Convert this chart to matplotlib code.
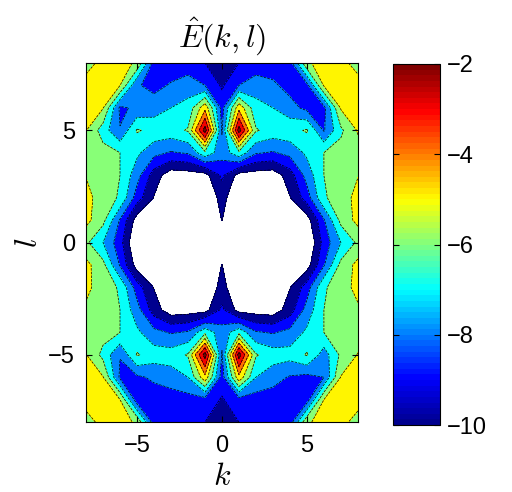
import matplotlib
matplotlib.use("Agg")
import matplotlib.pyplot as plt
from matplotlib.colors import LinearSegmentedColormap
import numpy as np

plt.rcParams['font.family'] = ['Liberation Sans', 'DejaVu Sans']
plt.rcParams['mathtext.fontset'] = 'cm'

# grid (rows: l from 8 down to -8, columns: k from -8 to 8)
k = [-8, -7, -6, -5, -4, -3, -2, -1, 0, 1, 2, 3, 4, 5, 6, 7, 8]
l = [8, 7, 6, 5, 4, 3, 2, 1, 0, -1, -2, -3, -4, -5, -6, -7, -8]

E_hat = [
    [-5.5, -4.6, -4.5, -5.2, -8.4, -8.6, -8.7, -9.0, -9.8, -9.0, -8.7, -8.6, -8.4, -5.2, -4.5, -4.6, -5.5],
    [-4.5, -4.7, -5.0, -7.9, -8.3, -7.9, -7.4, -8.0, -9.15, -8.0, -7.4, -7.8, -8.4, -8.3, -4.9, -4.6, -4.5],
    [-4.6, -4.95, -8.2, -7.8, -7.5, -7.0, -6.7, -4.3, -8.4, -4.3, -6.7, -7.0, -7.6, -8.3, -8.3, -4.9, -4.6],
    [-4.95, -6.5, -7.95, -5.9, -6.3, -6.4, -5.9, -1.5, -8.1, -1.5, -5.9, -6.4, -6.3, -5.9, -8.1, -6.2, -4.9],
    [-5.4, -5.6, -6.0, -6.8, -7.7, -8.1, -7.9, -6.3, -7.6, -6.3, -7.9, -8.1, -7.7, -6.8, -6.0, -5.6, -5.4],
    [-5.05, -5.6, -6.0, -7.6, -9.5, -10.6, -10.5, -10.4, -8.8, -10.4, -10.5, -10.6, -9.5, -7.6, -6.0, -5.6, -5.05],
    [-4.6, -5.6, -6.1, -8.5, -10.05, -11.0, -12.0, -11.0, -9.6, -11.0, -12.0, -11.0, -10.05, -8.5, -6.1, -5.6, -4.6],
    [-4.7, -5.7, -8.1, -10.5, -12.0, -13.0, -13.0, -12.0, -9.95, -12.0, -13.0, -13.0, -12.0, -10.5, -8.1, -5.7, -4.7],
    [-5.8, -7.0, -8.6, -11.2, -13.0, -14.0, -14.0, -13.0, -12.0, -13.0, -14.0, -14.0, -13.0, -11.2, -8.6, -7.0, -5.8],
    [-4.7, -5.7, -8.1, -10.5, -12.0, -13.0, -13.0, -12.0, -9.95, -12.0, -13.0, -13.0, -12.0, -10.5, -8.1, -5.7, -4.7],
    [-4.7, -5.6, -6.1, -8.5, -10.05, -11.0, -12.0, -11.0, -9.6, -11.0, -12.0, -11.0, -10.05, -8.5, -6.1, -5.6, -4.6],
    [-5.2, -5.6, -6.0, -7.6, -9.5, -10.6, -10.5, -10.4, -8.8, -10.4, -10.5, -10.6, -9.5, -7.6, -6.0, -5.6, -5.2],
    [-5.4, -5.6, -6.0, -6.8, -7.7, -8.1, -7.9, -6.3, -7.6, -6.3, -7.9, -8.1, -7.7, -6.8, -6.0, -5.6, -5.4],
    [-4.95, -6.3, -7.95, -5.9, -6.5, -6.5, -5.9, -1.5, -8.1, -1.5, -5.9, -6.5, -6.6, -5.9, -7.5, -5.8, -4.95],
    [-4.6, -4.95, -8.2, -8.2, -7.8, -7.5, -7.0, -4.3, -8.5, -4.3, -7.0, -7.6, -8.1, -8.3, -8.0, -4.95, -4.6],
    [-4.5, -4.7, -5.0, -8.6, -8.6, -8.5, -8.4, -8.4, -9.1, -8.4, -8.5, -8.5, -8.6, -8.5, -5.0, -4.7, -4.5],
    [-5.5, -4.6, -4.5, -5.2, -8.5, -8.6, -8.8, -9.0, -9.8, -9.0, -8.8, -8.6, -8.5, -5.2, -4.5, -4.6, -5.5],
]

levels = [-10, -9, -8, -7, -6, -5, -4, -3, -2, -1]
cbar_ticks = [-10, -8, -6, -4, -2]

# matlab's jet (pure yellow at 5/8, unlike matplotlib's version)
jet_ml = LinearSegmentedColormap('jet_ml', {
    'red':   [(0, 0, 0), (3/8, 0, 0), (5/8, 1, 1), (7/8, 1, 1), (1, 0.5, 0.5)],
    'green': [(0, 0, 0), (1/8, 0, 0), (3/8, 1, 1), (5/8, 1, 1), (7/8, 0, 0), (1, 0, 0)],
    'blue':  [(0, 0.5625, 0.5625), (1/8, 1, 1), (3/8, 1, 1), (5/8, 0, 0), (1, 0, 0)],
}, N=64)
norm = plt.Normalize(-10, -2)
# each band takes the colour of its lower level
band_colors = [jet_ml(norm(v)) for v in levels[:-1]]

fig = plt.figure(figsize=(5.12, 4.92), dpi=100)
ax = fig.add_axes([0.168, 0.142, 0.531, 0.73])

ax.contourf(k, l, E_hat, levels=levels, colors=band_colors)
ax.contour(k, l, E_hat, levels=levels[:-1], colors='k', linewidths=0.5)

ax.set_xlim(-8, 8)
ax.set_ylim(-8, 8)
ax.set_xticks([-5, 0, 5])
ax.set_yticks([-5, 0, 5])
ax.tick_params(direction='in', top=True, right=True, labelsize=17, length=4)
ax.tick_params(axis='x', pad=9)
ax.tick_params(axis='y', pad=8)

ax.set_title(r'$\hat{E}(k,l)$', fontsize=23, pad=11)
ax.set_xlabel(r'$k$', fontsize=23, labelpad=4)
ax.set_ylabel(r'$l$', fontsize=23, labelpad=3)

cax = fig.add_axes([0.768, 0.136, 0.092, 0.734])
sm = plt.cm.ScalarMappable(norm=norm, cmap=jet_ml)
cb = fig.colorbar(sm, cax=cax, ticks=cbar_ticks)
cb.ax.tick_params(direction='in', left=True, right=True, labelsize=17, length=4, pad=5)

fig.savefig('out.png', dpi=100)
